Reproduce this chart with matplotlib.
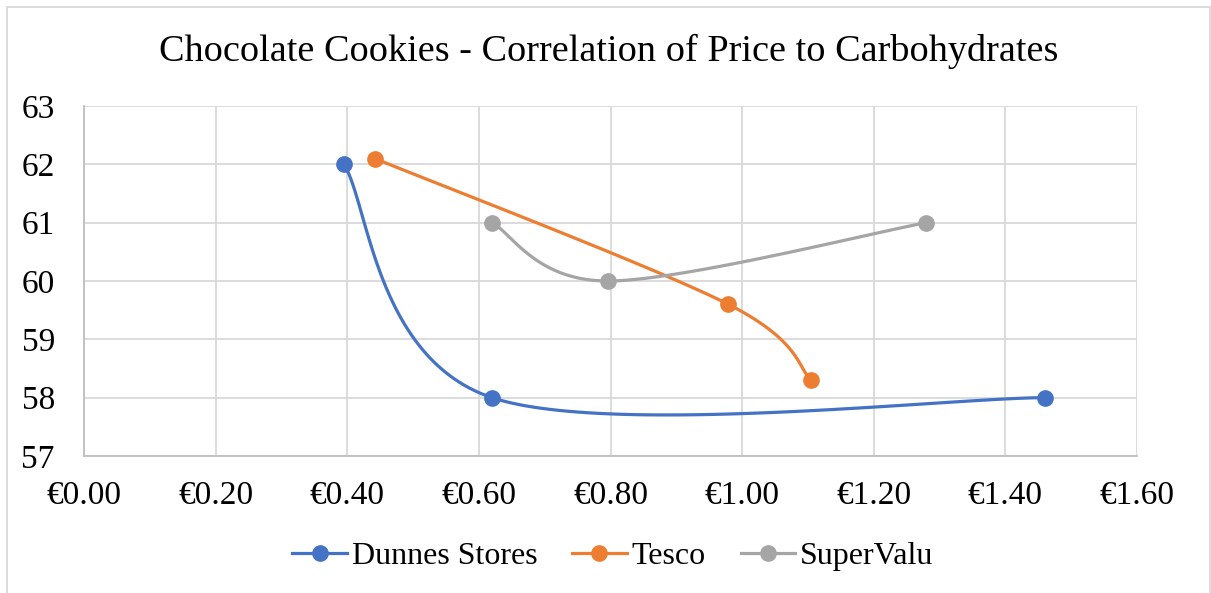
import numpy as np
import matplotlib.pyplot as plt
from matplotlib.patches import Rectangle

plt.rcParams['font.family'] = ['Liberation Serif', 'DejaVu Serif']

# price (EUR) vs carbohydrates (g per 100 g)
dunnes_x = [0.395, 0.62, 1.46]
dunnes_y = [62.0, 58.0, 58.0]
tesco_x = [0.442, 0.979, 1.105]
tesco_y = [62.1, 59.6, 58.3]
supervalu_x = [0.62, 0.796, 1.28]
supervalu_y = [61.0, 60.0, 61.0]

series = [("Dunnes Stores", dunnes_x, dunnes_y, "#4472C4"),
          ("Tesco", tesco_x, tesco_y, "#ED7D31"),
          ("SuperValu", supervalu_x, supervalu_y, "#A5A5A5")]

xticks = np.arange(0, 1.61, 0.2)
yticks = np.arange(57, 64, 1)


def smooth(xs, ys, n=60):
    # excel style smoothed line (catmull-rom as bezier)
    p = np.column_stack([xs, ys])
    m = len(p)
    t = np.linspace(0, 1, n)[:, None]
    out = []
    for i in range(m - 1):
        p0 = p[max(i - 1, 0)]
        p1 = p[i]
        p2 = p[i + 1]
        p3 = p[min(i + 2, m - 1)]
        c1 = p1 + (p2 - p0) / 6
        c2 = p2 - (p3 - p1) / 6
        seg = (1 - t)**3 * p1 + 3 * (1 - t)**2 * t * c1 + 3 * (1 - t) * t**2 * c2 + t**3 * p2
        out.append(seg)
    out = np.vstack(out)
    return out[:, 0], out[:, 1]


fig = plt.figure(figsize=(12.11, 5.93), dpi=100)
ax = fig.add_axes([84 / 1211, 1 - 456 / 593, (1137 - 84) / 1211, (456 - 106) / 593])

for name, xs, ys, c in series:
    sx, sy = smooth(xs, ys)
    ax.plot(sx, sy, color=c, lw=2.3, solid_capstyle='round', zorder=3)
    ax.plot(xs, ys, 'o', color=c, ms=11, zorder=4)
    ax.plot([], [], '-o', color=c, lw=2.3, ms=11, label=name)

ax.set_xlim(0, 1.6)
ax.set_ylim(57, 63)
ax.set_xticks(xticks)
ax.set_yticks(yticks)
ax.set_xticklabels(["\u20ac%.2f" % v for v in xticks])
ax.set_yticklabels(["%d" % v for v in yticks])
ax.tick_params(length=0, labelsize=24)
ax.tick_params(axis='x', pad=18)
ax.tick_params(axis='y', pad=21)
ax.grid(True, color='#D9D9D9', lw=1.3)
ax.set_axisbelow(True)
for s in ['top', 'right']:
    ax.spines[s].set_visible(False)
for s in ['left', 'bottom']:
    ax.spines[s].set_color('#BFBFBF')
    ax.spines[s].set_linewidth(1.3)

fig.text(0.503, 1 - 51 / 593, "Chocolate Cookies - Correlation of Price to Carbohydrates",
         ha='center', va='center', fontsize=27.5)

fig.legend(loc='center', bbox_to_anchor=(0.506, 1 - 556 / 593), ncol=3, frameon=False,
           fontsize=23, handlelength=1.7, handletextpad=0.15, columnspacing=1.1)

fig.patches.append(Rectangle((7 / 1211, -0.05), 1203 / 1211, 1.05 - 7 / 593,
                             transform=fig.transFigure, fill=False,
                             edgecolor='#D9D9D9', lw=1.3))

fig.savefig("out.png", dpi=100)
